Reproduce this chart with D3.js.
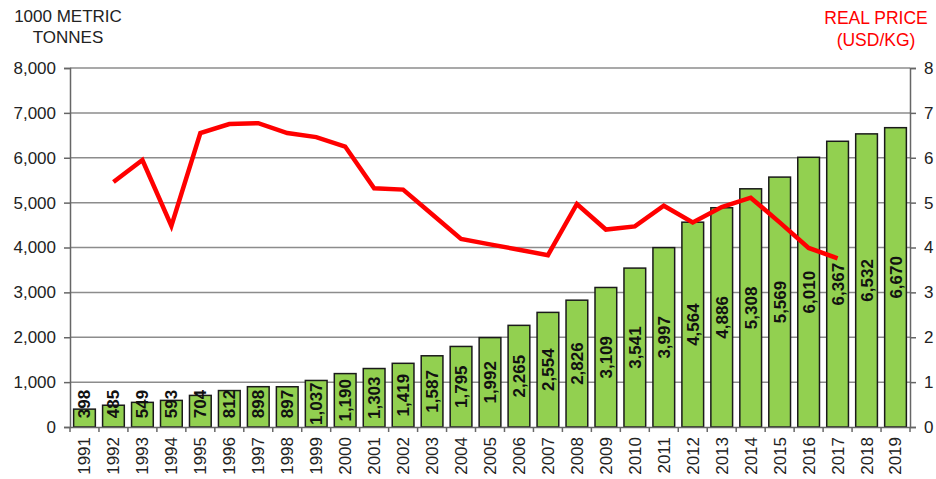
<!DOCTYPE html>
<html>
<head>
<meta charset="utf-8">
<script src="https://cdn.jsdelivr.net/npm/d3@7"></script>
<style>
  body { margin: 0; background: #fff; }
  svg { font-family: "Liberation Sans", Arial, sans-serif; }
</style>
</head>
<body>
<svg id="chart" width="936" height="479"></svg>
<script>
// data
const years = d3.range(1991, 2020).map(String);
const tonnes = [398, 485, 549, 593, 704, 812, 898, 897, 1037, 1190, 1303, 1419, 1587, 1795, 1992,
  2265, 2554, 2826, 3109, 3541, 3997, 4564, 4886, 5308, 5569, 6010, 6367, 6532, 6670];
const priceYears = d3.range(1992, 2018).map(String);
const price = [5.46, 5.95, 4.48, 6.55, 6.75, 6.77, 6.55, 6.46, 6.25, 5.32, 5.29, 4.74, 4.19, 4.07,
  3.95, 3.83, 4.97, 4.4, 4.47, 4.93, 4.56, 4.9, 5.11, 4.56, 3.99, 3.76];
const leftTicks = d3.range(0, 8001, 1000);
const rightTicks = d3.range(0, 9);

const margins = { top: 68, right: 26, bottom: 52, left: 70 };
const width = 936 - margins.left - margins.right,
  height = 479 - margins.top - margins.bottom;

const svg = d3.select('#chart');
const chart = svg.append('g')
  .attr('transform', 'translate(' + margins.left + ',' + margins.top + ')');

const x = d3.scaleBand().domain(years).range([0, width]).paddingInner(0.25).paddingOuter(0.125);
const y = d3.scaleLinear().domain([0, 8000]).range([height, 0]);
const y2 = d3.scaleLinear().domain([0, 8]).range([height, 0]);

// gridlines
chart.selectAll('.grid')
  .data(leftTicks.slice(1))
  .enter().append('line')
  .attr('x1', 0).attr('x2', width)
  .attr('y1', d => y(d)).attr('y2', d => y(d))
  .attr('stroke', '#8c8c8c').attr('stroke-width', 1.5);

// bars
chart.selectAll('.bar')
  .data(tonnes)
  .enter().append('rect')
  .attr('x', (d, i) => x(years[i]))
  .attr('width', x.bandwidth())
  .attr('y', d => y(d))
  .attr('height', d => height - y(d))
  .attr('fill', '#92d050')
  .attr('stroke', '#1a1a1a')
  .attr('stroke-width', 1.5);

// bar labels (rotated)
chart.selectAll('.lbl')
  .data(tonnes)
  .enter().append('text')
  .attr('transform', (d, i) => {
    const cx = x(years[i]) + x.bandwidth() / 2;
    const cy = Math.min((y(d) + height) / 2, height - 23);
    return 'translate(' + (cx + 6) + ',' + cy + ') rotate(-90)';
  })
  .attr('text-anchor', 'middle')
  .style('font-size', '17px')
  .style('font-weight', 'bold')
  .attr('fill', '#111')
  .text(d => d3.format(',')(d));

// price line
const line = d3.line()
  .x((d, i) => x(priceYears[i]) + x.bandwidth() / 2)
  .y(d => y2(d));
chart.append('path')
  .datum(price)
  .attr('d', line)
  .attr('fill', 'none')
  .attr('stroke', '#ff0000')
  .attr('stroke-width', 4.5)
  .attr('stroke-linejoin', 'miter');

// axes
const leftAxis = chart.append('g')
  .call(d3.axisLeft(y).tickValues(leftTicks).tickFormat(d3.format(',')).tickSize(6).tickPadding(8));
const rightAxis = chart.append('g')
  .attr('transform', 'translate(' + width + ',0)')
  .call(d3.axisRight(y2).tickValues(rightTicks).tickSize(6).tickPadding(8));
const bottomAxis = chart.append('g')
  .attr('transform', 'translate(0,' + height + ')')
  .call(d3.axisBottom(x).tickSize(0).tickPadding(10));

[leftAxis, rightAxis, bottomAxis].forEach(a => {
  a.select('.domain').attr('stroke', '#666').attr('stroke-width', 1.5);
  a.selectAll('.tick line').attr('stroke', '#666').attr('stroke-width', 1.5);
  a.selectAll('text').attr('fill', '#222').style('font-size', '17px').style('font-family', '"Liberation Sans", Arial, sans-serif');
});
bottomAxis.selectAll('.tick text')
  .attr('transform', 'rotate(-90)')
  .attr('text-anchor', 'end')
  .attr('x', -10).attr('y', 0).attr('dy', '0.35em');

// category boundary ticks on the x axis
chart.selectAll('.xtick')
  .data(d3.range(years.length + 1))
  .enter().append('line')
  .attr('x1', i => i * width / years.length).attr('x2', i => i * width / years.length)
  .attr('y1', height).attr('y2', height + 5)
  .attr('stroke', '#666').attr('stroke-width', 1.5);

// titles
svg.append('text').attr('x', 68).attr('y', 22).attr('text-anchor', 'middle')
  .style('font-size', '17px').attr('fill', '#222').text('1000 METRIC');
svg.append('text').attr('x', 68).attr('y', 43).attr('text-anchor', 'middle')
  .style('font-size', '17px').attr('fill', '#222').text('TONNES');
svg.append('text').attr('x', 876).attr('y', 24).attr('text-anchor', 'middle')
  .style('font-size', '17.5px').attr('fill', '#ff0000').text('REAL PRICE');
svg.append('text').attr('x', 876).attr('y', 46).attr('text-anchor', 'middle')
  .style('font-size', '17.5px').attr('fill', '#ff0000').text('(USD/KG)');
</script>
</body>
</html>
